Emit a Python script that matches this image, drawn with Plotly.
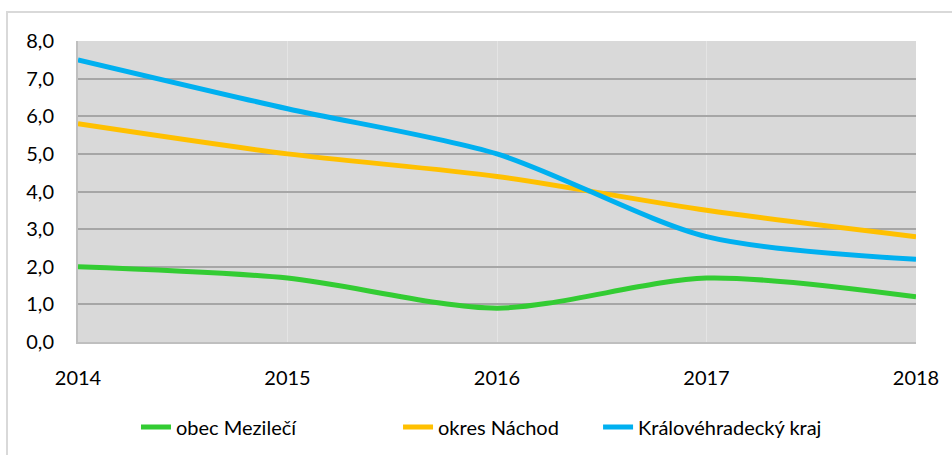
import plotly.graph_objects as go

years = ["2014", "2015", "2016", "2017", "2018"]
obec_mezileci = [2.0, 1.7, 0.9, 1.7, 1.2]
okres_nachod = [5.8, 5.0, 4.4, 3.5, 2.8]
kralovehradecky_kraj = [7.5, 6.2, 5.0, 2.8, 2.2]

series = [
    ("obec Mezilečí", obec_mezileci, "#33cc33", "legend", 0.0692),
    ("okres Náchod", okres_nachod, "#ffc000", "legend2", 0.3819),
    ("Královéhradecký kraj", kralovehradecky_kraj, "#00b0f0", "legend3", 0.6206),
]

fig = go.Figure()
legend_font = dict(family="Lato, 'Open Sans', sans-serif", size=20, color="#000000")
legends = {}
for name, vals, col, lg, lx in series:
    fig.add_trace(go.Scatter(
        x=years, y=vals, name=name, mode="lines", legend=lg,
        line=dict(color=col, width=5, shape="spline", smoothing=0.8),
    ))
    legends[lg] = dict(
        orientation="h", x=lx, xanchor="left",
        yref="container", y=0.0615, yanchor="middle",
        font=legend_font, bgcolor="rgba(0,0,0,0)",
    )

font = dict(family="Lato, 'Open Sans', sans-serif", size=20, color="#000000")

fig.update_layout(
    width=952, height=455,
    margin=dict(l=78, r=36, t=41, b=113),
    paper_bgcolor="white",
    plot_bgcolor="#d9d9d9",
    font=font,
    separators=", ",
    showlegend=True,
    xaxis=dict(
        type="category", range=[0, 4], showgrid=True, gridcolor="#e4e4e4", gridwidth=1,
        showline=True, linecolor="#bfbfbf", linewidth=2,
        ticks="outside", ticklen=17, tickcolor="rgba(0,0,0,0)",
        zeroline=False, fixedrange=True,
    ),
    yaxis=dict(
        range=[0, 8], dtick=1, tickformat=".1f", showgrid=True,
        gridcolor="#a6a6a6", gridwidth=2,
        showline=True, linecolor="#bfbfbf", linewidth=2,
        ticks="outside", ticklen=18, tickcolor="rgba(0,0,0,0)",
        zeroline=False, fixedrange=True,
    ),
    shapes=[dict(
        type="rect", xref="paper", yref="paper",
        x0=-0.0847, x1=1.2, y0=-0.5, y1=1.0963,
        line=dict(color="#d9d9d9", width=2), fillcolor="rgba(0,0,0,0)", layer="below",
    )],
    **legends,
)

fig.write_html(
    "out.html",
    config={"displayModeBar": False},
    post_script="document.body.style.margin='0';document.body.style.overflow='hidden';",
)
